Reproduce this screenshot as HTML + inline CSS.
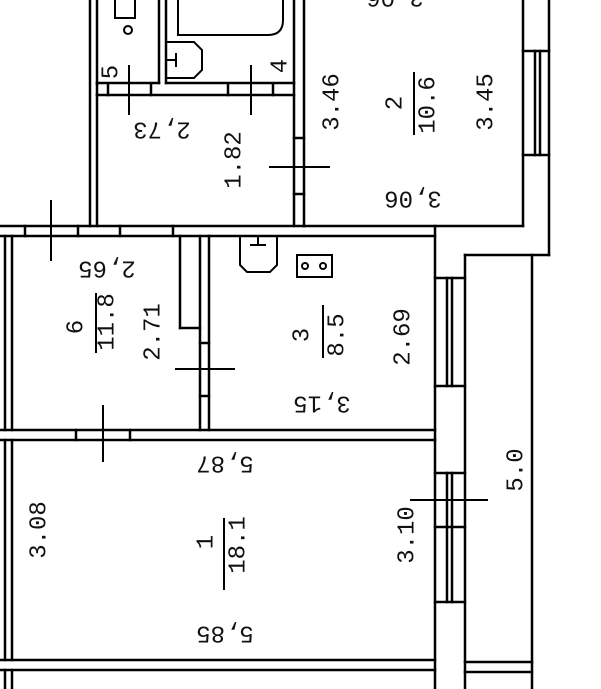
<!DOCTYPE html>
<html><head><meta charset="utf-8"><style>
html,body{margin:0;padding:0;background:#fff;}
svg{display:block;}
text{font-family:"Liberation Mono",monospace;font-size:24px;fill:#111;}
</style></head><body>
<svg width="601" height="689" viewBox="0 0 601 689" xmlns="http://www.w3.org/2000/svg">
<g stroke="#000" stroke-width="2.5" fill="none" stroke-linecap="square">
<line x1="90" y1="0" x2="90" y2="226"/>
<line x1="0" y1="226" x2="304" y2="226"/>
<line x1="97" y1="0" x2="97" y2="84"/>
<line x1="159" y1="0" x2="159" y2="83"/>
<line x1="166" y1="0" x2="166" y2="83"/>
<line x1="97" y1="83" x2="159" y2="83"/>
<line x1="166" y1="83" x2="294" y2="83"/>
<line x1="294" y1="0" x2="294" y2="226"/>
<line x1="304" y1="0" x2="304" y2="226"/>
<line x1="97" y1="95" x2="294" y2="95"/>
<line x1="97" y1="95" x2="97" y2="226"/>
<line x1="97" y1="83" x2="97" y2="95"/>
<line x1="108" y1="84" x2="108" y2="95"/>
<line x1="151" y1="84" x2="151" y2="95"/>
<line x1="228" y1="84" x2="228" y2="95"/>
<line x1="273" y1="84" x2="273" y2="95"/>
<line x1="294" y1="138" x2="304" y2="138"/>
<line x1="294" y1="194" x2="304" y2="194"/>
<line x1="304" y1="226" x2="523" y2="226"/>
<line x1="523" y1="0" x2="523" y2="226"/>
<line x1="549" y1="0" x2="549" y2="255"/>
<line x1="523" y1="51" x2="549" y2="51"/>
<line x1="523" y1="155" x2="549" y2="155"/>
<line x1="535" y1="51" x2="535" y2="155"/>
<line x1="540" y1="51" x2="540" y2="155"/>
<line x1="0" y1="236" x2="435" y2="236"/>
<line x1="435" y1="226" x2="435" y2="689"/>
<line x1="465" y1="255" x2="549" y2="255"/>
<line x1="465" y1="255" x2="465" y2="689"/>
<line x1="532" y1="255" x2="532" y2="689"/>
<line x1="435" y1="278" x2="465" y2="278"/>
<line x1="435" y1="386" x2="465" y2="386"/>
<line x1="447" y1="278" x2="447" y2="386"/>
<line x1="452" y1="278" x2="452" y2="386"/>
<line x1="435" y1="473" x2="465" y2="473"/>
<line x1="435" y1="527" x2="465" y2="527"/>
<line x1="435" y1="602" x2="465" y2="602"/>
<line x1="447" y1="473" x2="447" y2="602"/>
<line x1="452" y1="473" x2="452" y2="602"/>
<line x1="465" y1="662" x2="532" y2="662"/>
<line x1="465" y1="672" x2="532" y2="672"/>
<line x1="5" y1="236" x2="5" y2="430"/>
<line x1="12" y1="236" x2="12" y2="430"/>
<line x1="5" y1="440" x2="5" y2="660"/>
<line x1="12" y1="440" x2="12" y2="660"/>
<line x1="5" y1="670" x2="5" y2="689"/>
<line x1="12" y1="670" x2="12" y2="689"/>
<line x1="25" y1="226" x2="25" y2="236"/>
<line x1="78" y1="226" x2="78" y2="236"/>
<line x1="120" y1="226" x2="120" y2="236"/>
<line x1="173" y1="226" x2="173" y2="236"/>
<line x1="200" y1="236" x2="200" y2="430"/>
<line x1="209" y1="236" x2="209" y2="430"/>
<line x1="180" y1="236" x2="180" y2="328"/>
<line x1="180" y1="328" x2="200" y2="328"/>
<line x1="200" y1="343" x2="209" y2="343"/>
<line x1="200" y1="396" x2="209" y2="396"/>
<line x1="0" y1="430" x2="435" y2="430"/>
<line x1="0" y1="440" x2="435" y2="440"/>
<line x1="76" y1="430" x2="76" y2="440"/>
<line x1="130" y1="430" x2="130" y2="440"/>
<line x1="0" y1="660" x2="435" y2="660"/>
<line x1="0" y1="670" x2="435" y2="670"/>
</g>
<g stroke="#000" stroke-width="2">
<line x1="129" y1="65" x2="129" y2="115"/>
<line x1="251" y1="65" x2="251" y2="115"/>
<line x1="269" y1="167" x2="330" y2="167"/>
<line x1="51" y1="200" x2="51" y2="261"/>
<line x1="175" y1="369" x2="235" y2="369"/>
<line x1="103" y1="405" x2="103" y2="462"/>
<line x1="410" y1="500" x2="488" y2="500"/>
<line x1="414" y1="72" x2="414" y2="135"/>
<line x1="96" y1="293" x2="96" y2="353"/>
<line x1="323" y1="305" x2="323" y2="358"/>
<line x1="224" y1="518" x2="224" y2="590"/>
</g>
<g stroke="#000" stroke-width="2" fill="none">
<path d="M115 0 V18 H135 V0"/>
<circle cx="128" cy="30" r="4"/>
<path d="M178 0 V35 H268 Q283 35 283 20 V0"/>
<path d="M166 42 H194 L202 50 V70 L194 78 H166"/>
<line x1="176" y1="53" x2="176" y2="67"/><line x1="166" y1="60" x2="176" y2="60"/>
<path d="M240 236 V265 L247 272 H270 L277 265 V236"/>
<line x1="250" y1="245" x2="266" y2="245"/><line x1="258" y1="236" x2="258" y2="245"/>
<rect x="297" y="255" width="35" height="22"/>
<circle cx="305" cy="266" r="3"/><circle cx="323" cy="266" r="3"/>
</g>
<g text-anchor="middle" dominant-baseline="central">
<text transform="translate(112,72) rotate(-90)">5</text>
<text transform="translate(281,66) rotate(-90)">4</text>
<text transform="translate(162,128) rotate(180)">2,73</text>
<text transform="translate(235,160) rotate(-90)">1.82</text>
<text transform="translate(333,102) rotate(-90)">3.46</text>
<text transform="translate(396,103) rotate(-90)">2</text>
<text transform="translate(429,105) rotate(-90)">10.6</text>
<text transform="translate(487,102) rotate(-90)">3.45</text>
<text transform="translate(413,197) rotate(180)">3,06</text>
<text transform="translate(395,-4) rotate(180)">3,06</text>
<text transform="translate(107,267) rotate(180)">2,65</text>
<text transform="translate(77,327) rotate(-90)">6</text>
<text transform="translate(108,322) rotate(-90)">11.8</text>
<text transform="translate(154,332) rotate(-90)">2.71</text>
<text transform="translate(303,335) rotate(-90)">3</text>
<text transform="translate(338,335) rotate(-90)">8.5</text>
<text transform="translate(404,337) rotate(-90)">2.69</text>
<text transform="translate(322,402) rotate(180)">3,15</text>
<text transform="translate(225,462) rotate(180)">5,87</text>
<text transform="translate(40,530) rotate(-90)">3.08</text>
<text transform="translate(207,542) rotate(-90)">1</text>
<text transform="translate(239,545) rotate(-90)">18.1</text>
<text transform="translate(408,535) rotate(-90)">3.10</text>
<text transform="translate(225,632) rotate(180)">5,85</text>
<text transform="translate(517,470) rotate(-90)">5.0</text>
</g>
</svg>
</body></html>
